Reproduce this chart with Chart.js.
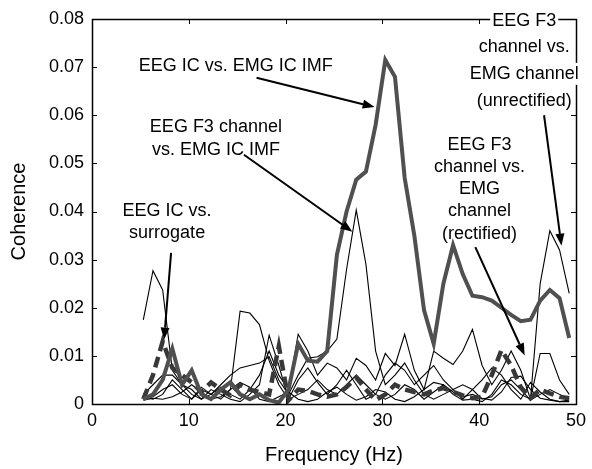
<!DOCTYPE html>
<html>
<head>
<meta charset="utf-8">
<script src="https://cdn.jsdelivr.net/npm/chart.js@4.4.1/dist/chart.umd.min.js"></script>
<style>
html, body { margin: 0; padding: 0; background: #fff; }
#wrap { width: 592px; height: 469px; }
</style>
</head>
<body>
<div id="wrap"><canvas id="chart" width="592" height="469"></canvas></div>
<script>
// frequency bins (Hz)
const freqs = [5.3, 6.3, 7.3, 8.3, 9.3, 10.3, 11.3, 12.3, 13.3, 14.3, 15.3, 16.3, 17.3, 18.3, 19.3,
	20.3, 21.3, 22.3, 23.3, 24.3, 25.3, 26.3, 27.3, 28.3, 29.3, 30.3, 31.3, 32.3, 33.3, 34.3,
	35.3, 36.3, 37.3, 38.3, 39.3, 40.3, 41.3, 42.3, 43.3, 44.3, 45.3, 46.3, 47.3, 48.3, 49.3];

// EEG IC vs. EMG IC IMF (thick grey)
const icVsImf = [0.001, 0.002, 0.005, 0.0115, 0.004, 0.007, 0.002, 0.001, 0.003, 0.0045, 0.002, 0.001, 0.002, 0.0008, 0.0003,
	0.003, 0.0125, 0.009, 0.0088, 0.011, 0.031, 0.040, 0.0466, 0.0483, 0.058, 0.0715, 0.068, 0.047, 0.035, 0.0195,
	0.0125, 0.025, 0.033, 0.027, 0.0225, 0.0222, 0.0215, 0.020, 0.0185, 0.0172, 0.0175, 0.0215, 0.0237, 0.022, 0.0137];

// EEG IC vs. surrogate (thick dashed)
const icVsSurrogate = [0.001, 0.006, 0.013, 0.0075, 0.006, 0.0045, 0.0025, 0.0045, 0.003, 0.0018, 0.004, 0.003, 0.0025, 0.002, 0.012,
	0.0008, 0.003, 0.0027, 0.002, 0.0015, 0.002, 0.0035, 0.0055, 0.003, 0.0008, 0.002, 0.004, 0.003, 0.0025, 0.002,
	0.0028, 0.0033, 0.0025, 0.0018, 0.0012, 0.0015, 0.006, 0.0112, 0.008, 0.0035, 0.0012, 0.003, 0.0022, 0.0015, 0.0012];

// EEG F3 channel vs. EMG IC IMF
const f3VsImf = [0.001, 0.0015, 0.003, 0.004, 0.002, 0.001, 0.003, 0.002, 0.004, 0.006, 0.0075, 0.008, 0.0085, 0.0098, 0.005,
	0.002, 0.006, 0.0095, 0.0098, 0.011, 0.0135, 0.028, 0.0403, 0.029, 0.011, 0.004, 0.006, 0.0085, 0.005, 0.002,
	0.001, 0.002, 0.003, 0.004, 0.003, 0.001, 0.0015, 0.004, 0.005, 0.003, 0.0008, 0.002, 0.003, 0.002, 0.001];

// EEG F3 channel vs. EMG channel (unrectified)
const f3VsUnrect = [0.0175, 0.0277, 0.0237, 0.007, 0.004, 0.002, 0.001, 0.002, 0.001, 0.003, 0.0193, 0.0189, 0.0165, 0.009, 0.004,
	0.001, 0.002, 0.003, 0.005, 0.003, 0.002, 0.004, 0.006, 0.004, 0.002, 0.001, 0.002, 0.004, 0.003, 0.001,
	0.0025, 0.004, 0.002, 0.0008, 0.001, 0.0005, 0.002, 0.005, 0.004, 0.002, 0.001, 0.025, 0.036, 0.032, 0.023];

// EEG F3 channel vs. EMG channel (rectified)
const f3VsRect = [0.0015, 0.001, 0.002, 0.005, 0.003, 0.001, 0.0035, 0.002, 0.0035, 0.002, 0.001, 0.003, 0.006, 0.011, 0.006,
	0.003, 0.0145, 0.011, 0.006, 0.0085, 0.0075, 0.005, 0.0095, 0.008, 0.005, 0.0105, 0.008, 0.0145, 0.007, 0.003,
	0.011, 0.0095, 0.0082, 0.011, 0.0155, 0.008, 0.004, 0.007, 0.011, 0.007, 0.001, 0.0105, 0.0105, 0.005, 0.002];

// other comparisons (thin black)
const otherA = [0.002, 0.004, 0.006, 0.006, 0.004, 0.003, 0.001, 0.003, 0.002, 0.001, 0.0005, 0.002, 0.004, 0.0143, 0.008,
	0.001, 0.005, 0.0075, 0.0045, 0.002, 0.004, 0.007, 0.004, 0.001, 0.002, 0.006, 0.0085, 0.007, 0.004, 0.006,
	0.008, 0.005, 0.003, 0.001, 0.003, 0.005, 0.0075, 0.006, 0.003, 0.001, 0.0045, 0.0025, 0.001, 0.0005, 0.0008];
const otherB = [0.0008, 0.0012, 0.001, 0.0015, 0.0025, 0.004, 0.0025, 0.001, 0.0015, 0.003, 0.0045, 0.0035, 0.001, 0.0005, 0.0015,
	0.0025, 0.001, 0.0005, 0.001, 0.0025, 0.0035, 0.002, 0.0008, 0.0015, 0.003, 0.0025, 0.001, 0.0005, 0.0015, 0.003,
	0.0045, 0.004, 0.0025, 0.0015, 0.002, 0.0012, 0.0008, 0.0025, 0.0055, 0.0058, 0.003, 0.0012, 0.0008, 0.0005, 0.0005];

const xTickLabels = ["0", "10", "20", "30", "40", "50"];
const yTickLabels = ["0", "0.01", "0.02", "0.03", "0.04", "0.05", "0.06", "0.07", "0.08"];

const FONT = "'Liberation Sans', Arial, Helvetica, sans-serif";

// annotation texts, placed in data units (Hz, coherence)
const notes = [
	{ lines: ["EEG IC vs. EMG IC IMF"], x: 14.85, y: [0.0702], from: [17.0, 0.0678], to: [29.2, 0.0617] }
	, { lines: ["EEG F3 channel", "vs. EMG IC IMF"], x: 12.8, y: [0.0576, 0.0528], from: [15.7, 0.0518], to: [26.9, 0.0358] }
	, { lines: ["EEG IC vs.", "surrogate"], x: 7.76, y: [0.0401, 0.0355], from: [8.17, 0.0314], to: [7.45, 0.0134] }
	, { lines: ["EEG F3", "channel vs.", "EMG", "channel", "(rectified)"], x: 40.03, y: [0.0538, 0.0492, 0.0446, 0.0400, 0.0354], from: [39.6, 0.0326], to: [44.7, 0.0101] }
	, { lines: ["EEG F3", "channel vs.", "EMG channel", "(unrectified)"], x: 44.65, y: [0.0796, 0.0742, 0.0686, 0.0630], bg: true, from: [46.7, 0.0600], to: [48.5, 0.0329] }
];

function series(values) {
	return values.map((v, i) => ({ x: freqs[i], y: v }));
}

function thin(values) {
	return {
		data: series(values)
		, borderColor: "#000000"
		, borderWidth: 1.1
		, pointRadius: 0
		, order: 2
	};
}

const boxPlugin = {
	id: "box"
	, afterDatasetsDraw(chart) {
		const { ctx, chartArea: a, scales } = chart;
		ctx.save();
		ctx.strokeStyle = "#000";
		ctx.lineWidth = 1;
		ctx.beginPath();
		scales.x.ticks.forEach(t => {
			const px = Math.round(scales.x.getPixelForValue(t.value)) + 0.5;
			ctx.moveTo(px, a.bottom); ctx.lineTo(px, a.bottom - 5);
			ctx.moveTo(px, a.top); ctx.lineTo(px, a.top + 5);
		});
		scales.y.ticks.forEach(t => {
			const py = Math.round(scales.y.getPixelForValue(t.value)) + 0.5;
			ctx.moveTo(a.left, py); ctx.lineTo(a.left + 5, py);
			ctx.moveTo(a.right, py); ctx.lineTo(a.right - 5, py);
		});
		ctx.stroke();
		ctx.lineWidth = 1.5;
		ctx.strokeRect(Math.round(a.left) + 0.5, Math.round(a.top) + 0.5, Math.round(a.right - a.left), Math.round(a.bottom - a.top));
		ctx.restore();
	}
};

const notePlugin = {
	id: "notes"
	, afterDraw(chart) {
		const { ctx, scales } = chart;
		const X = v => scales.x.getPixelForValue(v);
		const Y = v => scales.y.getPixelForValue(v);
		ctx.save();
		ctx.font = "18px " + FONT;
		ctx.textAlign = "center";
		ctx.textBaseline = "middle";
		notes.forEach(n => {
			n.lines.forEach((s, i) => {
				if (n.bg) {
					const w = ctx.measureText(s).width;
					ctx.fillStyle = "#fff";
					ctx.fillRect(X(n.x) - w / 2 - 2, Y(n.y[i]) - 11, w + 4, 22);
				}
				ctx.fillStyle = "#000";
				ctx.fillText(s, X(n.x), Y(n.y[i]));
			});
			// arrow
			const x1 = X(n.from[0]), y1 = Y(n.from[1]);
			const x2 = X(n.to[0]), y2 = Y(n.to[1]);
			const ang = Math.atan2(y2 - y1, x2 - x1);
			const len = 12, half = 4.5;
			const bx = x2 - len * Math.cos(ang), by = y2 - len * Math.sin(ang);
			ctx.strokeStyle = "#000";
			ctx.lineWidth = 2;
			ctx.beginPath();
			ctx.moveTo(x1, y1); ctx.lineTo(bx, by);
			ctx.stroke();
			ctx.beginPath();
			ctx.moveTo(x2, y2);
			ctx.lineTo(bx + half * Math.sin(ang), by - half * Math.cos(ang));
			ctx.lineTo(bx - half * Math.sin(ang), by + half * Math.cos(ang));
			ctx.closePath();
			ctx.fillStyle = "#000";
			ctx.fill();
		});
		ctx.restore();
	}
};

new Chart(document.getElementById("chart"), {
	type: "line"
	, data: {
		datasets: [
			{
				label: "EEG IC vs. EMG IC IMF"
				, data: series(icVsImf)
				, borderColor: "#505050"
				, borderWidth: 4
				, pointRadius: 0
				, order: 0
			}
			, {
				label: "EEG IC vs. surrogate"
				, data: series(icVsSurrogate)
				, borderColor: "#383838"
				, borderWidth: 4.5
				, borderDash: [11, 6]
				, pointRadius: 0
				, order: 1
			}
			, { label: "EEG F3 channel vs. EMG IC IMF", ...thin(f3VsImf) }
			, { label: "EEG F3 channel vs. EMG channel (unrectified)", ...thin(f3VsUnrect) }
			, { label: "EEG F3 channel vs. EMG channel (rectified)", ...thin(f3VsRect) }
			, { label: "other A", ...thin(otherA) }
			, { label: "other B", ...thin(otherB) }
		]
	}
	, options: {
		responsive: false
		, animation: false
		, devicePixelRatio: 1
		, layout: { padding: { top: 19, right: 13, left: 0, bottom: 0 } }
		, plugins: {
			legend: { display: false }
			, tooltip: { enabled: false }
		}
		, scales: {
			x: {
				type: "linear"
				, min: 0
				, max: 50
				, grid: { display: false, drawTicks: false }
				, border: { display: false }
				, ticks: {
					stepSize: 10
					, padding: 6
					, color: "#000"
					, font: { family: FONT, size: 18 }
					, maxRotation: 0
					, callback: (v, i) => xTickLabels[i]
				}
				, title: {
					display: true
					, text: "Frequency (Hz)"
					, color: "#000"
					, font: { family: FONT, size: 20 }
					, padding: { top: 0, bottom: 2 }
				}
				, afterFit: s => { s.height = 65; }
			}
			, y: {
				min: 0
				, max: 0.08
				, grid: { display: false, drawTicks: false }
				, border: { display: false }
				, ticks: {
					stepSize: 0.01
					, padding: 8
					, color: "#000"
					, font: { family: FONT, size: 18 }
					, callback: (v, i) => yTickLabels[i]
				}
				, title: {
					display: true
					, text: "Coherence"
					, color: "#000"
					, font: { family: FONT, size: 20 }
					, padding: { top: 7, bottom: 0 }
				}
				, afterFit: s => { s.width = 92; }
			}
		}
	}
	, plugins: [boxPlugin, notePlugin]
});
</script>
</body>
</html>
